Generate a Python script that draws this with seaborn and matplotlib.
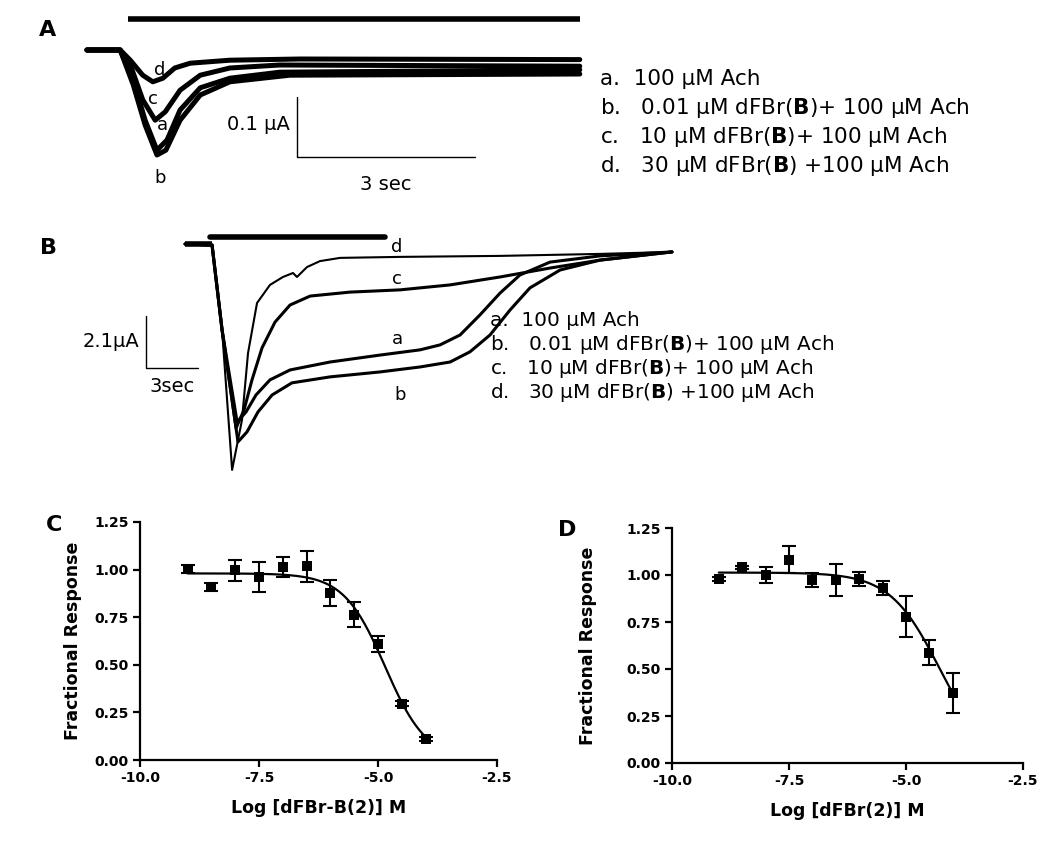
import numpy as np
import pandas as pd
import seaborn as sns
import matplotlib.pyplot as plt

# ---------------- data ----------------
# Panel A: oocyte current traces (time in s, current in uA)
A_time_a = [0, 0.56, 0.78, 0.98, 1.18, 1.35, 1.57, 1.91, 2.41, 3.25, 8.31]
A_curr_a = [0, 0, -0.050, -0.117, -0.167, -0.150, -0.100, -0.063, -0.047, -0.037, -0.033]
A_time_b = [0, 0.56, 0.78, 0.98, 1.18, 1.33, 1.57, 1.91, 2.41, 3.42, 8.31]
A_curr_b = [0, 0, -0.058, -0.125, -0.175, -0.167, -0.117, -0.075, -0.053, -0.042, -0.040]
A_time_c = [0, 0.56, 0.76, 0.94, 1.15, 1.32, 1.57, 1.91, 2.41, 3.25, 8.31]
A_curr_c = [0, 0, -0.033, -0.083, -0.117, -0.103, -0.067, -0.042, -0.030, -0.025, -0.027]
A_time_d = [0, 0.56, 0.73, 0.94, 1.11, 1.28, 1.48, 1.74, 2.41, 3.59, 8.31]
A_curr_d = [0, 0, -0.017, -0.042, -0.053, -0.047, -0.030, -0.022, -0.017, -0.015, -0.016]

# Panel B traces (time in s, current in uA)
B_time_a = [0, 1.56, 2.14, 3.01, 3.53, 4.10, 4.91, 6.07, 8.38, 11.27, 13.58, 14.74, 15.90, 17.05, 18.21, 19.36, 21.10, 23.99, 28.15]
B_curr_a = [0, -0.04, -3.47, -7.18, -6.77, -6.09, -5.48, -5.08, -4.76, -4.48, -4.27, -4.07, -3.67, -2.86, -1.98, -1.25, -0.73, -0.48, -0.32]
B_time_b = [0, 1.56, 2.14, 3.06, 3.58, 4.22, 5.03, 6.18, 8.38, 11.27, 13.58, 15.32, 16.47, 17.63, 18.79, 19.94, 21.68, 23.99, 28.15]
B_curr_b = [0, -0.04, -3.47, -7.98, -7.58, -6.77, -6.09, -5.60, -5.36, -5.16, -4.96, -4.76, -4.35, -3.67, -2.66, -1.77, -1.05, -0.65, -0.32]
B_time_c = [0, 1.56, 2.14, 2.95, 3.41, 3.87, 4.45, 5.20, 6.07, 7.23, 9.54, 12.43, 15.32, 18.21, 21.10, 23.99, 28.15]
B_curr_c = [0, -0.04, -3.47, -7.42, -6.69, -5.48, -4.19, -3.15, -2.46, -2.10, -1.94, -1.85, -1.65, -1.33, -0.97, -0.65, -0.32]
B_time_d = [0, 1.56, 2.14, 2.72, 3.29, 3.64, 4.16, 4.91, 5.66, 6.24, 6.47, 7.05, 7.80, 8.96, 12.43, 18.21, 23.99, 28.15]
B_curr_d = [0, -0.04, -3.47, -9.11, -7.10, -4.40, -2.38, -1.65, -1.33, -1.17, -1.33, -0.93, -0.69, -0.56, -0.52, -0.48, -0.40, -0.32]

legend_lines = ['a.  100 µM Ach',
                r'b.   0.01 µM dFBr($\mathbf{B}$)+ 100 µM Ach',
                r'c.   10 µM dFBr($\mathbf{B}$)+ 100 µM Ach',
                r'd.   30 µM dFBr($\mathbf{B}$) +100 µM Ach']

# Panels C and D: concentration-response (log M, fractional response, SEM)
C_logconc = [-9.0, -8.5, -8.0, -7.5, -7.0, -6.5, -6.0, -5.5, -5.0, -4.5, -4.0]
C_resp = [1.003, 0.908, 0.996, 0.959, 1.013, 1.017, 0.877, 0.763, 0.608, 0.296, 0.109]
C_sem = [0.02, 0.02, 0.054, 0.079, 0.052, 0.082, 0.067, 0.066, 0.042, 0.015, 0.01]
C_fit = dict(top=0.98, bottom=0.0, logic50=-4.85, hill=1.0)

D_logconc = [-9.0, -8.5, -8.0, -7.5, -7.0, -6.5, -6.0, -5.5, -5.0, -4.5, -4.0]
D_resp = [0.978, 1.040, 1.001, 1.081, 0.974, 0.974, 0.978, 0.930, 0.779, 0.587, 0.373]
D_sem = [0.01, 0.01, 0.043, 0.073, 0.037, 0.086, 0.039, 0.036, 0.107, 0.065, 0.107]
D_fit = dict(top=1.013, bottom=0.0, logic50=-4.29, hill=0.82)

# ---------------- figure ----------------
sns.set_theme(style="ticks")
plt.rcParams['font.family'] = ['DejaVu Sans']
plt.rcParams['mathtext.fontset'] = 'dejavusans'
plt.rcParams['text.color'] = 'black'
plt.rcParams['axes.labelcolor'] = 'black'
plt.rcParams['xtick.color'] = 'black'
plt.rcParams['ytick.color'] = 'black'

W, H = 1050, 844
fig = plt.figure(figsize=(W / 100, H / 100), dpi=100)
fig.patch.set_facecolor('white')


def rect(x0, y0, x1, y1):
    return [x0 / W, 1 - y1 / H, (x1 - x0) / W, (y1 - y0) / H]


def ftext(x, y, s, **kw):
    fig.text(x / W, 1 - y / H, s, color='black', **kw)


def draw_trace(ax, t, i, lw):
    sns.lineplot(x=t, y=i, ax=ax, sort=False, estimator=None, color='black',
                 linewidth=lw, solid_joinstyle='round', solid_capstyle='round')


# ---- panel A ----
axA = fig.add_axes(rect(60, 5, 600, 200))
axA.set_xlim(-0.455, 8.651)
axA.set_ylim(-0.25, 0.075)
axA.axis('off')
for t, i in [(A_time_b, A_curr_b), (A_time_a, A_curr_a), (A_time_c, A_curr_c), (A_time_d, A_curr_d)]:
    draw_trace(axA, t, i, 3.6)
axA.plot([0.69, 8.31], [0.052, 0.052], color='black', lw=4, solid_capstyle='butt')
# scale bar 3 s / 0.1 uA
axA.plot([3.54, 3.54, 6.54], [-0.078, -0.178, -0.178], color='black', lw=1.0)
axA.text(3.42, -0.125, '0.1 µA', ha='right', va='center', fontsize=14)
axA.text(5.03, -0.225, '3 sec', ha='center', va='center', fontsize=14)
for lab, x, y in [('d', 1.23, -0.033), ('c', 1.11, -0.082), ('a', 1.28, -0.125), ('b', 1.23, -0.213)]:
    axA.text(x, y, lab, ha='center', va='center', fontsize=13)

for k, s in enumerate(legend_lines):
    ftext(600, 79 + 29 * k, s, ha='left', va='center', fontsize=15.5)
ftext(48, 30, 'A', ha='center', va='center', fontsize=16, fontweight='bold')

# ---- panel B ----
axB = fig.add_axes(rect(60, 225, 700, 485))
axB.set_xlim(-7.23, 29.77)
axB.set_ylim(-9.72, 0.766)
axB.axis('off')
for t, i, lw in [(B_time_b, B_curr_b, 2.2), (B_time_a, B_curr_a, 2.2),
                 (B_time_c, B_curr_c, 2.2), (B_time_d, B_curr_d, 1.5)]:
    draw_trace(axB, t, i, lw)
axB.plot([0, 1.56], [0, 0], color='black', lw=4, solid_capstyle='butt')
axB.plot([1.45, 11.56], [0.28, 0.28], color='black', lw=4, solid_capstyle='round')
# scale bar 3 s / 2.1 uA
axB.plot([-2.24, -2.24, 0.76], [-2.9, -5.0, -5.0], color='black', lw=1.0)
axB.text(-2.64, -3.95, '2.1µA', ha='right', va='center', fontsize=14)
axB.text(-0.74, -5.75, '3sec', ha='center', va='center', fontsize=14)
for lab, x, y in [('d', 12.25, -0.12), ('c', 12.25, -1.40), ('a', 12.25, -3.85), ('b', 12.43, -6.09)]:
    axB.text(x, y, lab, ha='center', va='center', fontsize=13)

for k, s in enumerate(legend_lines):
    ftext(490, 321 + 24 * k, s, ha='left', va='center', fontsize=14.4)
ftext(48, 248, 'B', ha='center', va='center', fontsize=16, fontweight='bold')


# ---- panels C, D ----
def dose_panel(ax, x, y, e, fit, xlabel, ypad):
    xs = np.linspace(min(x), max(x), 200)
    ys = fit['bottom'] + (fit['top'] - fit['bottom']) / (1 + 10 ** ((xs - fit['logic50']) * fit['hill']))
    sns.lineplot(x=xs, y=ys, ax=ax, color='black', linewidth=1.6)
    ax.errorbar(x, y, yerr=e, fmt='none', ecolor='black', elinewidth=1.5,
                capsize=5, capthick=1.5, clip_on=False)
    sns.scatterplot(x=x, y=y, ax=ax, marker='s', s=60, color='black',
                    edgecolor='black', linewidth=0, zorder=5, clip_on=False)
    ax.set_xlim(-10, -2.5)
    ax.set_ylim(0, 1.25)
    ax.set_xticks([-10.0, -7.5, -5.0, -2.5])
    ax.set_xticklabels(['-10.0', '-7.5', '-5.0', '-2.5'])
    ax.set_yticks([0, 0.25, 0.5, 0.75, 1.0, 1.25])
    ax.set_yticklabels(['0.00', '0.25', '0.50', '0.75', '1.00', '1.25'])
    sns.despine(ax=ax)
    for sp in ['left', 'bottom']:
        ax.spines[sp].set_linewidth(1.6)
        ax.spines[sp].set_color('black')
    ax.tick_params(direction='out', length=5, width=1.6, colors='black',
                   labelsize=10, pad=3)
    for lbl in ax.get_xticklabels() + ax.get_yticklabels():
        lbl.set_fontweight('bold')
    ax.set_xlabel(xlabel, fontsize=12.5, fontweight='bold', labelpad=10)
    ax.set_ylabel('Fractional Response', fontsize=12.5, fontweight='bold', labelpad=ypad)
    ax.set_facecolor('white')


axC = fig.add_axes(rect(140, 522, 497, 760))
dose_panel(axC, C_logconc, C_resp, C_sem, C_fit, 'Log [dFBr-B(2)] M', 9)
ftext(54, 525, 'C', ha='center', va='center', fontsize=16, fontweight='bold')

axD = fig.add_axes(rect(672, 528, 1023, 763))
dose_panel(axD, D_logconc, D_resp, D_sem, D_fit, 'Log [dFBr(2)] M', 21)
ftext(567, 530, 'D', ha='center', va='center', fontsize=16, fontweight='bold')

fig.savefig('out.png', dpi=100, facecolor='white')
